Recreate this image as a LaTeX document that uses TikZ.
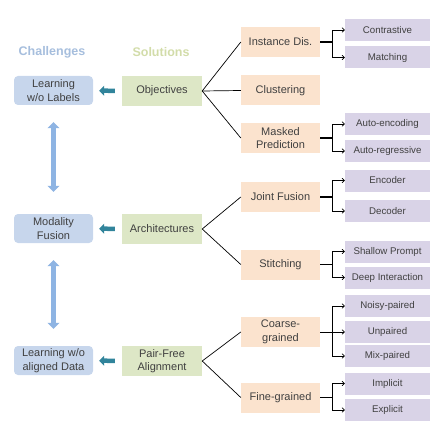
\documentclass[tikz,border=0pt]{standalone}
\usepackage{fontspec}
\setmainfont{Liberation Sans}
\usetikzlibrary{arrows.meta,positioning,calc}
\definecolor{chalfill}{HTML}{C7D6EC}
\definecolor{chalhead}{HTML}{A6BEDD}
\definecolor{solfill}{HTML}{DDE7C6}
\definecolor{solhead}{HTML}{D2DCA9}
\definecolor{methfill}{HTML}{FBE3CE}
\definecolor{leaffill}{HTML}{D9D3E7}
\definecolor{tealarr}{HTML}{31849B}
\definecolor{bluearr}{HTML}{8EB4E3}
\definecolor{txt}{HTML}{404040}

\begin{document}
\begin{tikzpicture}[x=1pt,y=-1pt,text=txt,
          font=\fontsize{11}{13.5}\selectfont,
          chal/.style={fill=chalfill,rounded corners=4pt,minimum width=79pt,minimum height=29pt,align=center,inner sep=1pt},
          sol/.style={fill=solfill,minimum width=80pt,minimum height=30pt,align=center,inner sep=1pt},
          meth/.style={fill=methfill,minimum width=79pt,minimum height=30pt,align=center,inner sep=1pt},
          leaf/.style={fill=leaffill,minimum width=85pt,minimum height=22pt,inner sep=1pt,font=\fontsize{9.7}{11}\selectfont},
          head/.style={font=\fontsize{12.5}{14}\selectfont\bfseries},
          back/.style={tealarr,line width=4.5pt,-{Triangle[width=10pt,length=5pt]},shorten <=7pt,shorten >=6pt},
          link/.style={bluearr,line width=5pt,{Triangle[width=12pt,length=6pt]}-{Triangle[width=12pt,length=6pt]}},
          fork/.style={-{To[length=3pt,width=5pt]},line width=0.7pt}]
        \useasboundingbox (0,0) rectangle (439,433);
        \node[head,chalhead] (hchal) at (52,52) {Challenges};
        \node[head,solhead] (hsol) at (161,52) {Solutions};
        % challenges
        \node[chal] (lwl) at (53.5,90.5) {Learning\\w/o Labels};
        \node[chal] (fus) at (53.5,228.5) {Modality\\Fusion};
        \node[chal] (ald) at (53.5,360.5) {Learning w/o\\aligned Data};
        % solutions
        \node[sol] (obj) at (162,91) {Objectives};
        \node[sol] (arch) at (162,229) {Architectures};
        \node[sol] (pfa) at (162,361) {Pair-Free\\Alignment};
        % methods
        \node[meth] (inst) at (280.5,42) {Instance Dis.};
        \node[meth] (clus) at (280.5,90.5) {Clustering};
        \node[meth] (mask) at (280.5,138) {Masked\\Prediction};
        \node[meth] (joint) at (280.5,197) {Joint Fusion};
        \node[meth] (stit) at (280.5,264.5) {Stitching};
        \node[meth] (coarse) at (280.5,332) {Coarse-\\grained};
        \node[meth] (fine) at (280.5,397.5) {Fine-grained};
        % leaves
        \node[leaf] (contr) at (387.5,30) {Contrastive};
        \node[leaf] (match) at (387.5,57.5) {Matching};
        \node[leaf] (aenc) at (387.5,124) {Auto-encoding};
        \node[leaf] (areg) at (387.5,151) {Auto-regressive};
        \node[leaf] (enc) at (387.5,180.5) {Encoder};
        \node[leaf] (dec) at (387.5,211) {Decoder};
        \node[leaf] (shal) at (387.5,251.5) {Shallow Prompt};
        \node[leaf] (deep) at (387.5,277.5) {Deep Interaction};
        \node[leaf] (noisy) at (387.5,306) {Noisy-paired};
        \node[leaf] (unp) at (387.5,331.5) {Unpaired};
        \node[leaf] (mix) at (387.5,356) {Mix-paired};
        \node[leaf] (impl) at (387.5,383.5) {Implicit};
        \node[leaf] (expl) at (387.5,410) {Explicit};
        % arrows between columns
        \draw[back] (obj) -- (lwl);
        \draw[back] (arch) -- (fus);
        \draw[back] (pfa) -- (ald);
        \draw[link,shorten <=17pt,shorten >=22pt] (lwl) -- (fus);
        \draw[link,shorten <=17pt,shorten >=17pt] (fus) -- (ald);
        \foreach \s/\m in {obj/inst,obj/clus,obj/mask,arch/joint,arch/stit,pfa/coarse,pfa/fine}
          \draw[line width=0.7pt] (\s.east) -- (\m.west);
        % forks to the leaves
        \foreach \m/\a/\b in {inst/contr/match,mask/aenc/areg,joint/enc/dec,stit/shal/deep,fine/impl/expl}{
          \draw[line width=1.6pt] (\m.east) -- ++(12,0) coordinate (k\m);
          \draw[fork] (k\m) |- (\a.west);
          \draw[fork] (k\m) |- (\b.west);
        }
        \draw[line width=0.7pt] (coarse.east) -- ++(12,0) coordinate (kc);
        \draw[fork] (kc) |- (noisy.west);
        \draw[fork] (kc) -- (kc-|unp.west);
        \draw[fork] (kc) |- (mix.west);
      \end{tikzpicture}
\end{document}
